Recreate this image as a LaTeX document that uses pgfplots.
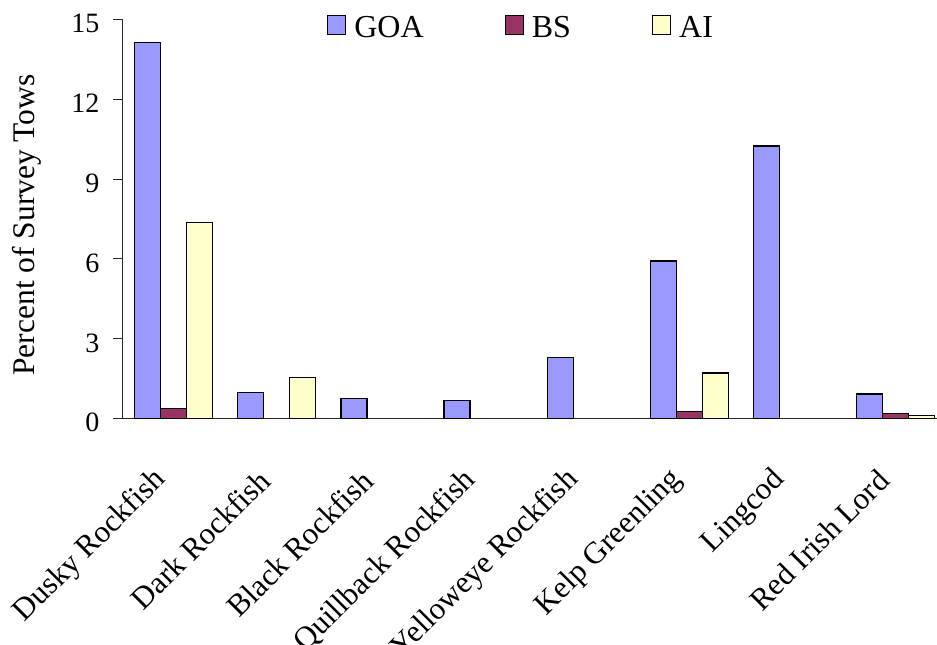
\documentclass[border=0pt]{standalone}
\usepackage{pgfplots}
\pgfplotsset{compat=1.18}
\usepackage{fontspec}
\setmainfont{Liberation Serif}
\definecolor{goa}{HTML}{9999FF}
\definecolor{bs}{HTML}{993366}
\definecolor{ai}{HTML}{FFFFCC}
\pgfplotsset{sq legend/.style={legend image code/.code={\draw[##1, draw=black, line width=1.2bp] (0bp,-7bp) rectangle (18bp,12bp);}}}
\begin{document}
\begin{tikzpicture}
\begin{axis}[
  name=ax,
  scale only axis,
  width=815bp, height=399bp,
  xmin=-0.5, xmax=7.40,
  ymin=0, ymax=15,
  ybar=0pt, bar width=26bp,
  axis lines*=left,
  axis line style={line width=0.8bp, color=black!85},
  tick align=outside,
  major tick length=9bp,
  minor tick length=10bp,
  tick style={line width=0.8bp, color=black!85},
  xtick={0,...,7},
  xtick style={draw=none},
  minor xtick={-0.5,0.5,...,6.5},
  xticklabels={Dusky Rockfish,Dark Rockfish,Black Rockfish,Quillback Rockfish,Yelloweye Rockfish,Kelp Greenling,Lingcod,Red Irish Lord},
  xticklabel style={xshift=-12bp, rotate=45, anchor=east, inner sep=0pt, font=\fontsize{31bp}{37bp}\selectfont},
  xticklabel shift=48bp,
  ytick={0,3,...,15},
  yticklabel style={font=\fontsize{28bp}{32bp}\selectfont, xshift=-10bp, yshift=-4.5bp},
  /pgf/number format/assume math mode=true,
  ylabel={Percent of Survey Tows},
  ylabel style={at={(axis description cs:-0.1166,0.4845)}, anchor=center, font=\fontsize{31.5bp}{37bp}\selectfont},
  legend columns=3,
  legend style={at={(axis description cs:0.2515,0.9812)}, anchor=west, draw=none, fill=none, inner sep=0pt,
    font=\fontsize{32bp}{38bp}\selectfont, nodes={inner sep=0pt},
    /tikz/every odd column/.append style={column sep=8bp},
    /tikz/every even column/.append style={column sep=81bp}},
  every axis plot/.append style={draw=black, line width=1.2bp},
]
\addplot[fill=goa, sq legend] coordinates {(0,14.12) (1,0.98) (2,0.73) (3,0.66) (4,2.30) (5,5.91) (6,10.24) (7,0.91)};
\addplot[fill=bs, sq legend] coordinates {(0,0.38) (5,0.25) (7,0.17)};
\addplot[fill=ai, sq legend] coordinates {(0,7.35) (1,1.52) (5,1.70) (7,0.11)};
\legend{GOA,BS,AI}
\end{axis}
\pgfresetboundingbox
\path[use as bounding box] ([shift={(-122bp,-226.7bp)}]ax.south west) rectangle ([shift={(815bp,418.3bp)}]ax.south west);
\end{tikzpicture}
\end{document}
